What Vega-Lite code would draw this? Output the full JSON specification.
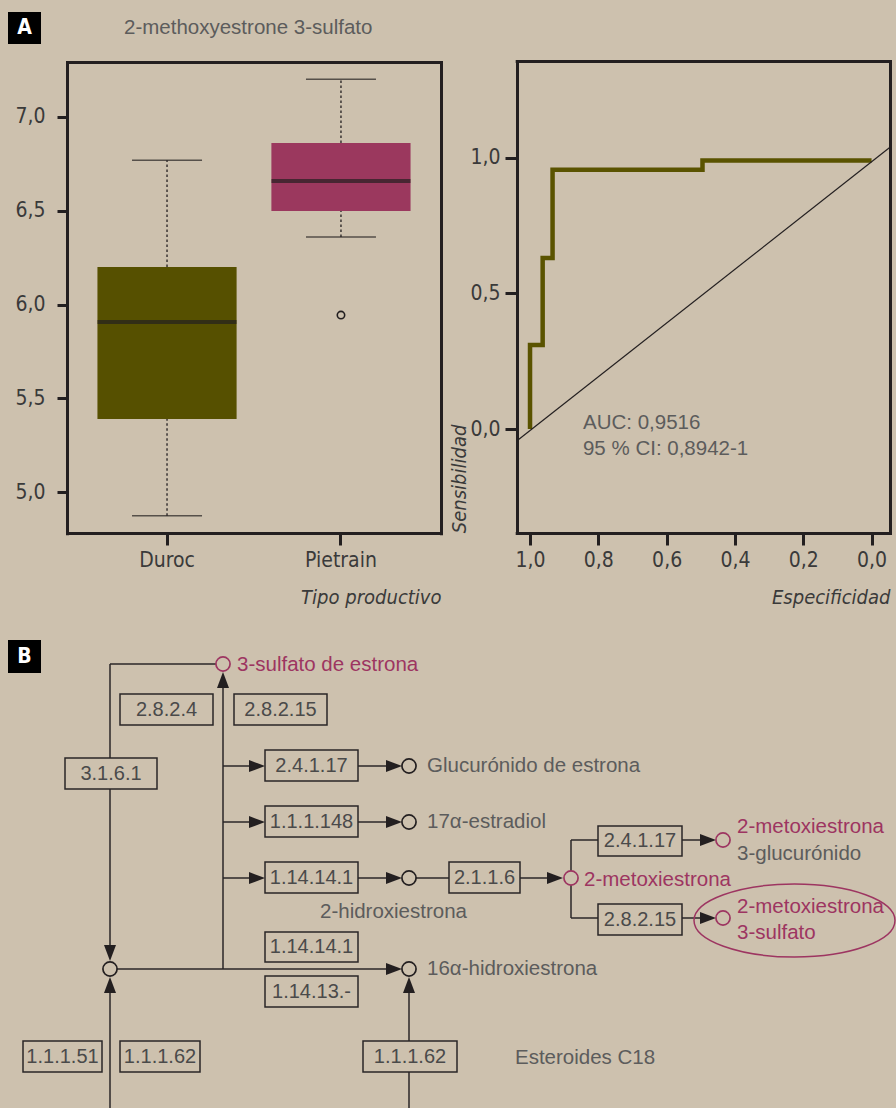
{
  "$schema": "https://vega.github.io/schema/vega-lite/v6.json",
  "width": 896,
  "height": 1108,
  "autosize": {"type": "none"},
  "padding": 0,
  "background": "#cdc1ae",
  "config": {
    "view": {"stroke": null},
    "axis": {
      "grid": false,
      "domainColor": "#231f20",
      "domainWidth": 3,
      "domainCap": "square",
      "tickColor": "#231f20",
      "tickWidth": 3,
      "labelColor": "#3a3a3a",
      "labelFont": "Liberation Sans Narrow, DejaVu Sans Condensed, Roboto, sans-serif",
      "labelFontSize": 21,
      "titleFont": "Liberation Sans Narrow, DejaVu Sans Condensed, Roboto, sans-serif",
      "titleFontSize": 20,
      "titleFontStyle": "italic",
      "titleFontWeight": "normal",
      "titleColor": "#3a3a3a"
    }
  },
  "datasets": {
    "box": [
      {"tipo": "Duroc", "min": 4.875, "q1": 5.39, "median": 5.907, "q3": 6.2, "max": 6.769},
      {"tipo": "Pietrain", "min": 6.36, "q1": 6.498, "median": 6.658, "q3": 6.86, "max": 7.2}
    ],
    "outliers": [
      {"tipo": "Pietrain", "value": 5.944}
    ],
    "roc": [
      {"i": 1, "spec": 1.0, "sens": 0.0},
      {"i": 2, "spec": 1.0, "sens": 0.31},
      {"i": 3, "spec": 0.963, "sens": 0.31},
      {"i": 4, "spec": 0.963, "sens": 0.63},
      {"i": 5, "spec": 0.934, "sens": 0.63},
      {"i": 6, "spec": 0.934, "sens": 0.955},
      {"i": 7, "spec": 0.495, "sens": 0.955},
      {"i": 8, "spec": 0.495, "sens": 0.989},
      {"i": 9, "spec": 0.0, "sens": 0.989}
    ],
    "diag": [
      {"i": 1, "spec": 1.039, "sens": -0.044},
      {"i": 2, "spec": -0.054, "sens": 1.038}
    ],
    "auc": [
      {"spec": 0.845, "sens": 0.022, "text": "AUC: 0,9516"},
      {"spec": 0.845, "sens": -0.073, "text": "95 % CI: 0,8942-1"}
    ],
    "segments": [
      {"x": 110, "y": 664, "x2": 216, "y2": 664},
      {"x": 110, "y": 664, "x2": 110, "y2": 955},
      {"x": 223, "y": 680, "x2": 223, "y2": 969},
      {"x": 110, "y": 969, "x2": 395, "y2": 969},
      {"x": 110, "y": 1108, "x2": 110, "y2": 985},
      {"x": 409, "y": 1108, "x2": 409, "y2": 985},
      {"x": 223, "y": 766, "x2": 255, "y2": 766},
      {"x": 223, "y": 822, "x2": 255, "y2": 822},
      {"x": 223, "y": 878, "x2": 255, "y2": 878},
      {"x": 358, "y": 766, "x2": 392, "y2": 766},
      {"x": 358, "y": 822, "x2": 392, "y2": 822},
      {"x": 358, "y": 878, "x2": 392, "y2": 878},
      {"x": 416, "y": 878, "x2": 449, "y2": 878},
      {"x": 520, "y": 878, "x2": 553, "y2": 878},
      {"x": 571, "y": 840, "x2": 571, "y2": 918},
      {"x": 571, "y": 840, "x2": 598, "y2": 840},
      {"x": 571, "y": 918, "x2": 598, "y2": 918},
      {"x": 682, "y": 840, "x2": 706, "y2": 840},
      {"x": 682, "y": 918, "x2": 706, "y2": 918}
    ],
    "arrows": [
      {"x": 223, "y": 672, "dir": "up"},
      {"x": 110, "y": 977, "dir": "up"},
      {"x": 409, "y": 977, "dir": "up"},
      {"x": 110, "y": 961, "dir": "down"},
      {"x": 265, "y": 766, "dir": "right"},
      {"x": 265, "y": 822, "dir": "right"},
      {"x": 265, "y": 878, "dir": "right"},
      {"x": 402, "y": 766, "dir": "right"},
      {"x": 402, "y": 822, "dir": "right"},
      {"x": 402, "y": 878, "dir": "right"},
      {"x": 563, "y": 878, "dir": "right"},
      {"x": 716, "y": 840, "dir": "right"},
      {"x": 716, "y": 918, "dir": "right"},
      {"x": 402, "y": 969, "dir": "right"}
    ],
    "nodes": [
      {"x": 110, "y": 969, "tone": "dark"},
      {"x": 409, "y": 766, "tone": "dark"},
      {"x": 409, "y": 822, "tone": "dark"},
      {"x": 409, "y": 878, "tone": "dark"},
      {"x": 409, "y": 969, "tone": "dark"},
      {"x": 223, "y": 664, "tone": "pink"},
      {"x": 571, "y": 878, "tone": "pink"},
      {"x": 723, "y": 840, "tone": "pink"},
      {"x": 723, "y": 918, "tone": "pink"}
    ],
    "ellipse": [
      {"x": 794.5, "y": 920.5}
    ],
    "enzymes": [
      {"label": "2.8.2.4", "x1": 120, "x2": 213, "y1": 694, "y2": 725, "cx": 166.5, "cy": 709.5},
      {"label": "2.8.2.15", "x1": 234, "x2": 327, "y1": 694, "y2": 725, "cx": 280.5, "cy": 709.5},
      {"label": "3.1.6.1", "x1": 65, "x2": 157, "y1": 758, "y2": 789, "cx": 111, "cy": 773.5},
      {"label": "2.4.1.17", "x1": 265, "x2": 358, "y1": 750, "y2": 781, "cx": 311.5, "cy": 765.5},
      {"label": "1.1.1.148", "x1": 265, "x2": 358, "y1": 806, "y2": 837, "cx": 311.5, "cy": 821.5},
      {"label": "1.14.14.1", "x1": 265, "x2": 358, "y1": 862, "y2": 893, "cx": 311.5, "cy": 877.5},
      {"label": "2.1.1.6", "x1": 449, "x2": 520, "y1": 862, "y2": 893, "cx": 484.5, "cy": 877.5},
      {"label": "2.4.1.17", "x1": 598, "x2": 682, "y1": 826, "y2": 856, "cx": 640, "cy": 841},
      {"label": "2.8.2.15", "x1": 598, "x2": 682, "y1": 904, "y2": 935, "cx": 640, "cy": 919.5},
      {"label": "1.14.14.1", "x1": 265, "x2": 358, "y1": 932, "y2": 962, "cx": 311.5, "cy": 947},
      {"label": "1.14.13.-", "x1": 265, "x2": 358, "y1": 976, "y2": 1007, "cx": 311.5, "cy": 991.5},
      {"label": "1.1.1.51", "x1": 23, "x2": 102, "y1": 1041, "y2": 1072, "cx": 62.5, "cy": 1056.5},
      {"label": "1.1.1.62", "x1": 120, "x2": 200, "y1": 1041, "y2": 1072, "cx": 160, "cy": 1056.5},
      {"label": "1.1.1.62", "x1": 363, "x2": 457, "y1": 1041, "y2": 1072, "cx": 410, "cy": 1056.5}
    ],
    "texts": [
      {"text": "2-methoxyestrone 3-sulfato", "x": 124, "y": 28, "tone": "grey"},
      {"text": "3-sulfato de estrona", "x": 237, "y": 665, "tone": "pink"},
      {"text": "Glucurónido de estrona", "x": 427, "y": 766, "tone": "grey"},
      {"text": "17α-estradiol", "x": 427, "y": 822, "tone": "grey"},
      {"text": "2-hidroxiestrona", "x": 320, "y": 912, "tone": "grey"},
      {"text": "2-metoxiestrona", "x": 584, "y": 880, "tone": "pink"},
      {"text": "2-metoxiestrona", "x": 737, "y": 827, "tone": "pink"},
      {"text": "3-glucurónido", "x": 737, "y": 854, "tone": "grey"},
      {"text": "2-metoxiestrona", "x": 737, "y": 907, "tone": "pink"},
      {"text": "3-sulfato", "x": 737, "y": 933, "tone": "pink"},
      {"text": "16α-hidroxiestrona", "x": 427, "y": 969, "tone": "grey"},
      {"text": "Esteroides C18", "x": 515, "y": 1058, "tone": "grey"}
    ],
    "tags": [
      {"tag": "A", "x1": 8, "x2": 41, "y1": 12, "y2": 44, "cx": 24.5, "cy": 28},
      {"tag": "B", "x1": 8, "x2": 41, "y1": 640, "y2": 673, "cx": 24.5, "cy": 656.5}
    ]
  },
  "resolve": {"scale": {"x": "independent", "y": "independent", "color": "independent", "stroke": "independent", "shape": "independent"}},
  "layer": [
    {
      "resolve": {"axis": {"x": "independent", "y": "independent"}},
      "layer": [
        {
          "data": {"name": "box"},
          "mark": {"type": "rule", "strokeDash": [2.5, 2.5], "strokeWidth": 1.3, "color": "#231f20"},
          "encoding": {
            "x": {"field": "tipo", "type": "nominal", "axis": null},
            "y": {"field": "q3", "type": "quantitative", "axis": null},
            "y2": {"field": "max"}
          }
        },
        {
          "data": {"name": "box"},
          "mark": {"type": "rule", "strokeDash": [2.5, 2.5], "strokeWidth": 1.3, "color": "#231f20"},
          "encoding": {
            "x": {"field": "tipo", "type": "nominal", "axis": null},
            "y": {"field": "min", "type": "quantitative", "axis": null},
            "y2": {"field": "q1"}
          }
        },
        {
          "data": {"name": "box"},
          "mark": {"type": "tick", "orient": "horizontal", "size": 70, "thickness": 1.5, "color": "#231f20"},
          "encoding": {
            "x": {"field": "tipo", "type": "nominal", "axis": null},
            "y": {"field": "max", "type": "quantitative", "axis": null}
          }
        },
        {
          "data": {"name": "box"},
          "mark": {"type": "tick", "orient": "horizontal", "size": 70, "thickness": 1.5, "color": "#231f20"},
          "encoding": {
            "x": {"field": "tipo", "type": "nominal", "axis": null},
            "y": {"field": "min", "type": "quantitative", "axis": null}
          }
        },
        {
          "data": {"name": "box"},
          "mark": {"type": "bar"},
          "encoding": {
            "x": {
              "field": "tipo", "type": "nominal",
              "scale": {"type": "band", "domain": ["Duroc", "Pietrain"], "range": [67, 441], "paddingInner": 0.2, "paddingOuter": 0.175},
              "axis": {"orient": "bottom", "offset": -575, "title": "Tipo productivo", "titleAnchor": "end", "titleAlign": "right", "titlePadding": 17, "tickSize": 12, "labelPadding": 4, "labelAngle": 0}
            },
            "y": {
              "field": "q1", "type": "quantitative",
              "scale": {"domain": [4.782, 7.29], "range": [533.3, 62.3], "nice": false, "zero": false},
              "axis": {"orient": "left", "offset": -67, "values": [5, 5.5, 6, 6.5, 7], "labelExpr": "replace(format(datum.value, '.1f'), '.', ',')", "tickSize": 10, "labelPadding": 12, "title": null}
            },
            "y2": {"field": "q3"},
            "color": {"field": "tipo", "type": "nominal", "scale": {"domain": ["Duroc", "Pietrain"], "range": ["#565000", "#9b385e"]}, "legend": null}
          }
        },
        {
          "data": {"name": "box"},
          "mark": {"type": "tick", "orient": "horizontal", "size": 139, "thickness": 4, "color": "#231f20"},
          "encoding": {
            "x": {"field": "tipo", "type": "nominal", "axis": null},
            "y": {"field": "median", "type": "quantitative", "axis": null}
          }
        },
        {
          "data": {"name": "outliers"},
          "mark": {"type": "point", "shape": "circle", "size": 55, "filled": false, "strokeWidth": 1.6, "color": "#231f20", "opacity": 1},
          "encoding": {
            "x": {"field": "tipo", "type": "nominal", "axis": {"orient": "top", "offset": -62, "labels": false, "ticks": false, "title": null}},
            "y": {"field": "value", "type": "quantitative", "axis": {"orient": "right", "offset": -455, "labels": false, "ticks": false, "title": null}}
          }
        }
      ]
    },
    {
      "resolve": {"axis": {"x": "independent", "y": "independent"}},
      "layer": [
        {
          "data": {"name": "roc"},
          "mark": {"type": "line", "color": "#5a5300", "strokeWidth": 4.5, "strokeJoin": "miter", "strokeCap": "butt"},
          "encoding": {
            "x": {
              "field": "spec", "type": "quantitative",
              "scale": {"domain": [-0.054, 1.039], "range": [890, 516.7], "nice": false, "zero": false},
              "axis": {"orient": "bottom", "offset": -575, "values": [0, 0.2, 0.4, 0.6, 0.8, 1], "labelExpr": "replace(format(datum.value, '.1f'), '.', ',')", "tickSize": 12, "labelPadding": 4, "title": "Especificidad", "titleAnchor": "start", "titleAlign": "right", "titlePadding": 17}
            },
            "y": {
              "field": "sens", "type": "quantitative",
              "scale": {"domain": [-0.382, 1.356], "range": [532.7, 61], "nice": false, "zero": false},
              "axis": {"orient": "left", "offset": -517, "values": [0, 0.5, 1], "labelExpr": "replace(format(datum.value, '.1f'), '.', ',')", "tickSize": 12, "labelPadding": 5, "title": "Sensibilidad", "titleAnchor": "start", "titleAlign": "left", "titlePadding": 0}
            },
            "order": {"field": "i", "type": "quantitative"}
          }
        },
        {
          "data": {"name": "diag"},
          "mark": {"type": "line", "color": "#231f20", "strokeWidth": 1.2},
          "encoding": {
            "x": {"field": "spec", "type": "quantitative", "axis": {"orient": "top", "offset": -61, "labels": false, "ticks": false, "title": null}},
            "y": {"field": "sens", "type": "quantitative", "axis": {"orient": "right", "offset": -6, "labels": false, "ticks": false, "title": null}},
            "order": {"field": "i", "type": "quantitative"}
          }
        },
        {
          "data": {"name": "auc"},
          "mark": {"type": "text", "align": "left", "baseline": "middle", "fontSize": 20.5, "font": "Liberation Sans, Arial, sans-serif", "color": "#5c5c5c"},
          "encoding": {
            "x": {"field": "spec", "type": "quantitative", "axis": null},
            "y": {"field": "sens", "type": "quantitative", "axis": null},
            "text": {"field": "text"}
          }
        }
      ]
    },
    {
      "layer": [
        {
          "data": {"name": "segments"},
          "mark": {"type": "rule", "color": "#2a2627", "strokeWidth": 1.5},
          "encoding": {
            "x": {"field": "x", "type": "quantitative", "scale": {"domain": [0, 896], "range": [0, 896], "nice": false, "zero": false}, "axis": null},
            "y": {"field": "y", "type": "quantitative", "scale": {"domain": [0, 1108], "range": [0, 1108], "nice": false, "zero": false}, "axis": null},
            "x2": {"field": "x2"},
            "y2": {"field": "y2"}
          }
        },
        {
          "data": {"name": "arrows"},
          "mark": {"type": "point", "filled": true, "size": 256, "color": "#231f20", "opacity": 1},
          "encoding": {
            "x": {"field": "x", "type": "quantitative", "axis": null},
            "y": {"field": "y", "type": "quantitative", "axis": null},
            "shape": {
              "field": "dir", "type": "nominal", "legend": null,
              "scale": {"domain": ["right", "up", "down"], "range": ["M -2 -0.75 L 0 0 L -2 0.75 Z", "M -0.75 2 L 0 0 L 0.75 2 Z", "M -0.75 -2 L 0 0 L 0.75 -2 Z"]}
            }
          }
        },
        {
          "data": {"name": "nodes"},
          "mark": {"type": "point", "shape": "circle", "size": 200, "filled": false, "fill": "#cdc1ae", "fillOpacity": 1, "strokeWidth": 1.7, "opacity": 1},
          "encoding": {
            "x": {"field": "x", "type": "quantitative", "axis": null},
            "y": {"field": "y", "type": "quantitative", "axis": null},
            "stroke": {"field": "tone", "type": "nominal", "legend": null, "scale": {"domain": ["dark", "pink"], "range": ["#231f20", "#9d3561"]}}
          }
        },
        {
          "data": {"name": "ellipse"},
          "mark": {"type": "point", "shape": "M -1 0 A 1 0.363 0 1 0 1 0 A 1 0.363 0 1 0 -1 0 Z", "size": 40401, "filled": false, "color": "#9d3561", "strokeWidth": 1.5, "opacity": 1},
          "encoding": {
            "x": {"field": "x", "type": "quantitative", "axis": null},
            "y": {"field": "y", "type": "quantitative", "axis": null}
          }
        },
        {
          "data": {"name": "enzymes"},
          "mark": {"type": "rect", "fill": "#cdc1ae", "stroke": "#2a2627", "strokeWidth": 1.5},
          "encoding": {
            "x": {"field": "x1", "type": "quantitative", "axis": null},
            "x2": {"field": "x2"},
            "y": {"field": "y1", "type": "quantitative", "axis": null},
            "y2": {"field": "y2"}
          }
        },
        {
          "data": {"name": "enzymes"},
          "mark": {"type": "text", "align": "center", "baseline": "middle", "fontSize": 20, "font": "Liberation Sans, Arial, sans-serif", "color": "#4a4a4a"},
          "encoding": {
            "x": {"field": "cx", "type": "quantitative", "axis": null},
            "y": {"field": "cy", "type": "quantitative", "axis": null},
            "text": {"field": "label"}
          }
        },
        {
          "data": {"name": "texts"},
          "mark": {"type": "text", "align": "left", "baseline": "middle", "fontSize": 20.5, "font": "Liberation Sans, Arial, sans-serif"},
          "encoding": {
            "x": {"field": "x", "type": "quantitative", "axis": null},
            "y": {"field": "y", "type": "quantitative", "axis": null},
            "text": {"field": "text"},
            "color": {"field": "tone", "type": "nominal", "legend": null, "scale": {"domain": ["grey", "pink"], "range": ["#5c5c5c", "#9d3561"]}}
          }
        },
        {
          "data": {"name": "tags"},
          "mark": {"type": "rect", "color": "#000000"},
          "encoding": {
            "x": {"field": "x1", "type": "quantitative", "axis": null},
            "x2": {"field": "x2"},
            "y": {"field": "y1", "type": "quantitative", "axis": null},
            "y2": {"field": "y2"}
          }
        },
        {
          "data": {"name": "tags"},
          "mark": {"type": "text", "align": "center", "baseline": "middle", "fontSize": 21, "fontWeight": "bold", "font": "Liberation Sans Narrow, DejaVu Sans Condensed, sans-serif", "color": "#ffffff"},
          "encoding": {
            "x": {"field": "cx", "type": "quantitative", "axis": null},
            "y": {"field": "cy", "type": "quantitative", "axis": null},
            "text": {"field": "tag"}
          }
        }
      ]
    }
  ]
}
